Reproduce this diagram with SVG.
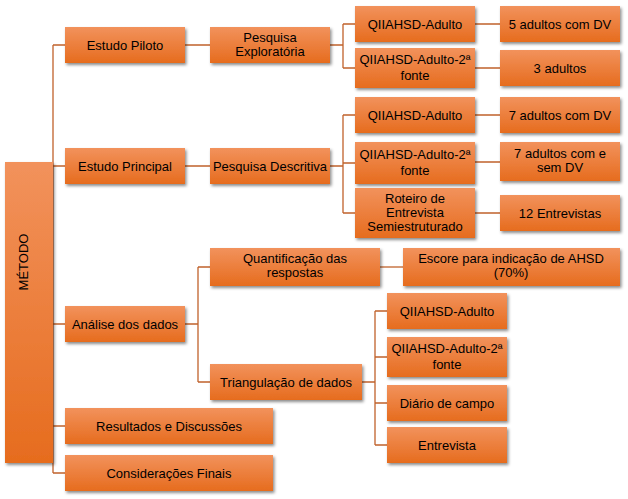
<svg xmlns="http://www.w3.org/2000/svg" width="628" height="499" viewBox="0 0 628 499">
<style>
.b{fill:url(#g);filter:url(#s)}
.t{font-family:"Liberation Sans",Arial,sans-serif;font-size:13px;fill:#000;text-anchor:middle}
.c{stroke:#C0622B;stroke-width:1.3;fill:none}
</style>
<defs>
<linearGradient id="g" x1="0" y1="0" x2="0" y2="1"><stop offset="0" stop-color="#F2925C"/><stop offset="1" stop-color="#E66C1E"/></linearGradient>
<filter id="s" x="-10%" y="-10%" width="130%" height="140%"><feDropShadow dx="1.5" dy="2" stdDeviation="1.5" flood-color="#000" flood-opacity="0.45"/></filter>
</defs>
<rect width="628" height="499" fill="#fff"/>
<g id="connectors" class="c">
<path d="M53 45V473M53 45H65M53 166H65M53 324H65M53 426H65M53 473H65"/>
<path d="M185 45H210M185 166H210"/>
<path d="M330 45H343M343 24V68M343 24H355M343 68H355"/>
<path d="M475 24H500M475 68H500"/>
<path d="M330 166H343M343 115V213M343 115H355M343 163H355M343 213H355"/>
<path d="M475 115H500M475 162H500M475 213H500"/>
<path d="M185 324H198M198 267V382M198 267H210M198 382H210"/>
<path d="M380 267H403"/>
<path d="M362 382H375M375 311V445M375 311H387M375 357H387M375 403H387M375 445H387"/>
</g>
<g id="metodo"><rect class="b" x="5" y="162" width="48" height="301"/><text class="t" transform="translate(28 262) rotate(-90)">MÉTODO</text></g>
<g id="piloto"><rect class="b" x="65" y="27" width="120" height="36"/><text class="t" x="125" y="50">Estudo Piloto</text></g>
<g id="exploratoria"><rect class="b" x="210" y="27" width="120" height="36"/><text class="t" x="270" y="42">Pesquisa</text><text class="t" x="270" y="56">Exploratória</text></g>
<g id="p1"><rect class="b" x="355" y="6" width="120" height="36"/><text class="t" x="415" y="29">QIIAHSD-Adulto</text></g>
<g id="p2"><rect class="b" x="355" y="48" width="120" height="40"/><text class="t" x="415" y="64">QIIAHSD-Adulto-2ª</text><text class="t" x="415" y="80">fonte</text></g>
<g id="r1"><rect class="b" x="500" y="6" width="120" height="36"/><text class="t" x="560" y="29">5 adultos com DV</text></g>
<g id="r2"><rect class="b" x="500" y="50" width="120" height="36"/><text class="t" x="560" y="73">3 adultos</text></g>
<g id="principal"><rect class="b" x="65" y="148" width="120" height="36"/><text class="t" x="125" y="171">Estudo Principal</text></g>
<g id="descritiva"><rect class="b" x="210" y="148" width="120" height="36"/><text class="t" x="270" y="171">Pesquisa Descritiva</text></g>
<g id="d1"><rect class="b" x="355" y="97" width="120" height="36"/><text class="t" x="415" y="120">QIIAHSD-Adulto</text></g>
<g id="d2"><rect class="b" x="355" y="142" width="120" height="42"/><text class="t" x="415" y="159">QIIAHSD-Adulto-2ª</text><text class="t" x="415" y="175">fonte</text></g>
<g id="d3"><rect class="b" x="355" y="188" width="120" height="50"/><text class="t" x="415" y="203">Roteiro de</text><text class="t" x="415" y="217">Entrevista</text><text class="t" x="415" y="231">Semiestruturado</text></g>
<g id="dr1"><rect class="b" x="500" y="97" width="120" height="36"/><text class="t" x="560" y="120">7 adultos com DV</text></g>
<g id="dr2"><rect class="b" x="500" y="142" width="120" height="39"/><text class="t" x="560" y="158">7 adultos com e</text><text class="t" x="560" y="172">sem DV</text></g>
<g id="dr3"><rect class="b" x="500" y="195" width="120" height="36"/><text class="t" x="560" y="218">12 Entrevistas</text></g>
<g id="analise"><rect class="b" x="65" y="306" width="120" height="36"/><text class="t" x="125" y="329">Análise dos dados</text></g>
<g id="quant"><rect class="b" x="210" y="248" width="170" height="38"/><text class="t" x="295" y="263">Quantificação das</text><text class="t" x="295" y="277">respostas</text></g>
<g id="escore"><rect class="b" x="403" y="248" width="217" height="38"/><text class="t" x="511" y="263">Escore para indicação de AHSD</text><text class="t" x="511" y="277">(70%)</text></g>
<g id="triang"><rect class="b" x="210" y="364" width="152" height="36"/><text class="t" x="286" y="387">Triangulação de dados</text></g>
<g id="t1"><rect class="b" x="387" y="293" width="120" height="36"/><text class="t" x="447" y="316">QIIAHSD-Adulto</text></g>
<g id="t2"><rect class="b" x="387" y="337" width="120" height="40"/><text class="t" x="447" y="353">QIIAHSD-Adulto-2ª</text><text class="t" x="447" y="369">fonte</text></g>
<g id="t3"><rect class="b" x="387" y="385" width="120" height="36"/><text class="t" x="447" y="408">Diário de campo</text></g>
<g id="t4"><rect class="b" x="387" y="427" width="120" height="36"/><text class="t" x="447" y="450">Entrevista</text></g>
<g id="resultados"><rect class="b" x="65" y="408" width="208" height="36"/><text class="t" x="169" y="431">Resultados e Discussões</text></g>
<g id="consideracoes"><rect class="b" x="65" y="455" width="208" height="36"/><text class="t" x="169" y="478">Considerações Finais</text></g>
</svg>
